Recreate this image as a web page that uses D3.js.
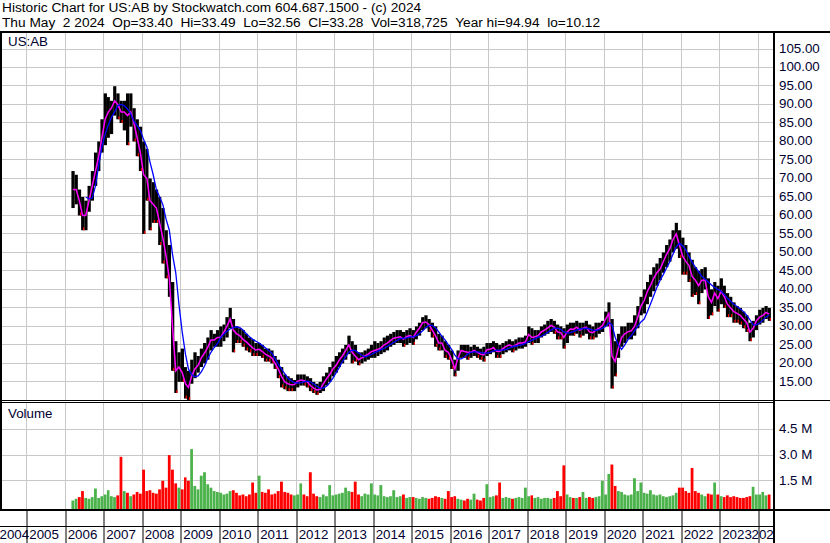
<!DOCTYPE html>
<html>
<head>
<meta charset="utf-8">
<script src="https://cdn.jsdelivr.net/npm/d3@7"></script>
<style>
  body { margin: 0; background: #fff; }
  svg { display: block; }
</style>
</head>
<body>
<svg width="830" height="543"></svg>
<script>
// monthly bars, first bar is March 2006
var firstYear = 2006, firstMonth = 2;

var hi = [
  72, 71, 67, 65, 64, 68, 72, 77, 80, 86,                         // 2006
  93, 92, 91, 94.94, 93, 91, 91, 93, 93, 89, 86, 84,              // 2007
  80, 78, 70, 69, 67, 65, 62, 56, 52, 42, 26, 23,                 // 2008
  24, 19, 18, 21, 23, 22, 24, 25.5, 27, 29, 28, 29,               // 2009
  30, 30.5, 32.5, 35, 32, 30, 29.5, 29, 28, 27, 26.5, 25.5,       // 2010
  25.5, 25, 24, 24, 23.5, 22, 21, 19, 17, 16.5, 16, 15.5,         // 2011
  17, 17, 17, 16.5, 16, 15, 14.5, 15, 16.5, 17.5, 19, 20.5,       // 2012
  22, 23, 24, 25, 27.5, 26, 25, 23, 23, 23.5, 24, 25,             // 2013
  26, 25.5, 26, 27, 27.5, 28, 28.5, 29, 29, 28.5, 29, 29.5,       // 2014
  29, 30, 31, 32.5, 33, 32, 31, 30, 28, 27.5, 26, 25,             // 2015
  23.5, 21, 23.5, 25, 25, 25, 24.5, 25, 24.5, 24, 24.5, 25.5,     // 2016
  25.5, 26, 25.5, 25, 25.5, 26, 26.5, 26, 26.5, 27, 27, 27.5,     // 2017
  30, 29.5, 29, 29, 30, 30.5, 31.5, 32, 31.5, 30.5, 30, 29.5,     // 2018
  30.5, 31, 31, 31.5, 31, 31, 31.5, 30.5, 30, 31, 31, 31.5,       // 2019
  34, 36.5, 32, 26, 28, 30, 30, 31, 31, 33, 35.5, 38,             // 2020
  40, 42, 44, 46, 47, 48.5, 50, 52, 53.5, 56, 58, 56,             // 2021
  54, 52, 50, 48, 46, 45, 45.5, 46, 43, 40, 42, 41,               // 2022
  43, 41, 39, 38, 36.5, 35.5, 35, 34, 33, 31, 31.5, 33,           // 2023
  34.5, 35, 35.5, 35                                              // 2024
];

var lo = [
  62, 63, 60, 56, 56, 61, 64, 68, 72, 77,
  79, 81, 82, 87, 86, 85, 83, 79, 84, 80, 76, 72,
  55, 64, 56, 58, 58, 52, 47, 43, 38, 18, 12, 15,
  15, 10.5, 10.12, 14.5, 16, 17.5, 19, 20, 21, 23.5, 24.5, 24.5,
  24.5, 26, 27, 29.5, 23, 25.5, 25.5, 24.5, 23.5, 23, 22, 22,
  22, 21.5, 20.5, 20.5, 20, 18.5, 16, 13.5, 13, 12.5, 12.5, 12.5,
  13.5, 14, 14, 13.5, 12.5, 12, 11.5, 12, 12.5, 14, 15, 16.5,
  17.5, 19, 20, 21, 22.5, 20, 20.5, 19.5, 20, 20.5, 21, 21.5,
  21.5, 22, 22.5, 23, 23.5, 24.5, 25, 25.5, 25.5, 24.5, 25, 25.5,
  25, 26.5, 27.5, 29, 29.5, 28.5, 27, 24.5, 23.5, 23.5, 21.5, 21,
  18.5, 16.5, 18, 21.5, 21.5, 21, 21.5, 22, 21.5, 21, 20.5, 22,
  22.5, 23, 21.5, 21.5, 22.5, 23, 23.5, 23, 23.5, 24, 24, 24.5,
  25.5, 25, 25.5, 25.5, 27, 27.5, 28, 28.5, 28, 26.5, 26.5, 24,
  25.5, 27.5, 27.5, 28, 27, 27.5, 28, 26.5, 26.5, 27, 28, 28.5,
  30, 30, 13.2, 16.5, 21.5, 24.5, 25.5, 26.5, 26.5, 27.5, 29.5, 33,
  33.5, 36, 38, 39.5, 41, 42.5, 44.5, 46, 47.5, 50, 51, 48.5,
  44, 44, 42, 38, 38.5, 36, 39, 40, 32, 33, 35.5, 34,
  36, 35, 32.5, 32.5, 31, 31, 30.5, 29.5, 28.5, 26, 27, 29,
  30.5, 31, 32, 31.5
];

// short average (magenta)
var avgShort = [
  67, 67, 64, 60, 60, 64, 68, 72, 76, 81,
  86, 88, 89, 91, 90, 88, 88, 87, 88, 85, 81, 77,
  71, 70, 64, 63, 62, 58, 54, 49, 43, 30, 18, 19,
  17.5, 14.5, 13.5, 16.5, 18.5, 19.5, 21.5, 22.8, 24.4, 26.3, 26.3, 27,
  27, 28.5, 30, 32, 29, 28, 27.5, 26.5, 25.8, 25, 24.2, 23.6,
  23.8, 23.2, 22.5, 22, 21.5, 20, 18.5, 16.5, 15, 14.5, 14.2, 14.3,
  15.2, 15.5, 15.3, 15, 14, 13.3, 12.8, 13, 14.5, 15.8, 17, 18.5,
  19.5, 21, 22, 23.5, 25, 23, 22, 21, 21.5, 22, 22.5, 23.2,
  23.5, 23.8, 24.2, 25, 25.5, 26.2, 26.8, 27, 27.2, 26.5, 27.3, 27.5,
  27, 28.5, 29.5, 31, 31.2, 30.5, 29, 27.5, 25.5, 25.5, 23.5, 23,
  21, 18.5, 21.5, 23.5, 23.2, 23, 23, 23.5, 23, 22.5, 22.3, 23.7,
  23.8, 24.3, 23.3, 23.2, 24, 24.6, 25, 24.5, 25, 25.5, 25.5, 25.8,
  27.8, 27, 27.2, 27.5, 28.5, 29, 29.6, 30.3, 29.8, 28.5, 28.3, 27,
  28.5, 29.3, 29.2, 29.8, 29, 29.5, 29.8, 28.5, 28.3, 29, 29.5, 30.2,
  32, 33.5, 22, 20.5, 24.2, 27, 28, 28.6, 28.8, 30, 32.5, 35.5,
  37, 39.5, 41, 43, 44.5, 45.5, 47.5, 49.5, 51, 53.5, 55, 52,
  49, 47.5, 46.5, 43.5, 42.5, 41, 42.5, 42.5, 38, 36.5, 39, 37.5,
  39.5, 38, 36, 35, 34, 33.5, 33, 32, 31, 28.5, 29.5, 31.5,
  32.5, 33, 33.8, 33.3
];

// long average (blue)
var avgLong = [
  null, null, null, null, 65, 64.5, 64.7, 68, 73.5, 78.5,
  82, 84.5, 86.5, 88, 89.7, 90, 89.7, 88.8, 87.5, 85.5, 84.3, 83,
  80.5, 78.5, 74.5, 71, 67, 65, 63, 59, 56, 49.5, 44.5, 36,
  28.5, 22.5, 18.5, 17, 16.4, 16.6, 17.7, 19.3, 21.4, 23, 24.3, 25.3,
  27, 27.9, 28.7, 29.3, 29.7, 29.9, 29.7, 29, 28, 27.2, 26.5, 26,
  25.5, 24.8, 24.2, 23.5, 22.8, 21.3, 19.8, 18.5, 17.2, 16, 15.3, 14.8,
  14.7, 14.8, 15, 15.2, 15, 14.5, 13.8, 13.3, 13.3, 13.8, 14.8, 16,
  17.5, 19, 20.5, 21.8, 23, 23.6, 23.5, 22.8, 22.2, 21.8, 22, 22.4,
  22.9, 23.3, 23.7, 24.1, 24.6, 25.1, 25.7, 26.2, 26.7, 26.8, 26.9, 27.1,
  27.2, 27.5, 28, 28.8, 29.7, 30.3, 30.3, 29.6, 28.5, 27.3, 26.3, 25,
  23.8, 22.2, 21.2, 21.2, 21.7, 22.5, 23, 23.1, 23.1, 23, 22.8, 22.8,
  23, 23.4, 23.6, 23.6, 23.6, 23.8, 24.1, 24.5, 24.7, 24.9, 25.1, 25.4,
  25.9, 26.3, 26.6, 27.1, 27.3, 27.8, 28.4, 29, 29.5, 29.5, 29.2, 28.5,
  28.2, 28.3, 28.6, 29, 29.3, 29.4, 29.5, 29.3, 29, 28.9, 29.1, 29.5,
  30, 31, 30.5, 27, 25, 23.8, 25, 26.5, 27.5, 28.8, 30, 31.2,
  32, 34, 36, 38.3, 40.5, 42.5, 44, 45.8, 47.5, 49.5, 51.5, 52.5,
  51.8, 50.6, 49, 47.3, 46, 44.8, 43.5, 42.8, 42, 41.2, 40.5, 40,
  39.5, 38.6, 37.6, 36.8, 36, 35.4, 34.8, 34, 33, 31.8, 30.4, 30.4,
  30.9, 31.7, 32.5, 33.1
];

// volume, millions
var vol = [
  0.35, 0.45, 0.55, 0.9, 0.5, 0.45, 0.55, 1.05, 0.5, 0.6,
  0.7, 0.95, 0.6, 0.55, 0.65, 2.9, 0.9, 0.8, 0.6, 0.7, 0.85, 0.75,
  2.15, 0.9, 0.95, 0.8, 0.75, 1.0, 1.5, 1.1, 3.0, 2.15, 1.35, 1.1,
  1.0, 1.7, 1.5, 3.35, 1.2, 1.0, 1.8, 2.0, 1.3, 1.1, 0.9, 0.85,
  0.8, 0.7, 0.75, 0.9, 0.95, 0.8, 0.65, 0.7, 0.6, 0.7, 1.4, 0.8,
  1.8, 0.85, 0.8, 1.0, 0.7, 0.75, 0.9, 1.45, 0.85, 0.8, 0.7, 0.65,
  0.7, 1.35, 0.7, 0.6, 2.0, 0.75, 0.6, 0.55, 0.7, 0.6, 1.25, 0.65,
  0.7, 0.75, 0.8, 1.1, 0.9, 0.85, 1.45, 0.7, 0.6, 0.75, 0.7, 1.35,
  0.7, 0.65, 1.25, 0.6, 0.55, 0.6, 0.95, 0.55, 0.6, 0.7, 0.5, 0.55,
  0.55, 0.5, 0.45, 0.55, 0.5, 0.45, 0.5, 0.6, 0.55, 0.5, 0.45, 0.9,
  0.55, 0.6, 0.45, 0.4, 0.35, 0.45, 0.4, 0.75, 0.4, 0.35, 0.5, 1.3,
  0.55, 0.6, 0.65, 1.4, 0.5, 0.55, 0.5, 0.45, 0.5, 0.55, 0.5, 1.1,
  0.6, 0.65, 0.5, 0.55, 0.45, 0.5, 0.5, 0.45, 0.5, 0.9, 0.6, 2.4,
  0.7, 0.55, 0.5, 0.5, 0.55, 0.85, 0.5, 0.55, 0.5, 0.55, 0.6, 1.5,
  0.7, 1.9, 2.45, 1.2, 0.9, 0.85, 0.7, 0.65, 0.7, 1.65, 0.9, 1.4,
  0.8, 0.75, 0.95, 0.7, 0.65, 0.7, 0.6, 0.55, 0.6, 0.65, 0.8, 1.1,
  1.1, 0.9, 0.8, 2.25, 0.9, 0.8, 0.7, 0.6, 0.75, 0.7, 1.4, 0.7,
  0.6, 0.55, 0.65, 0.55, 0.6, 0.55, 0.5, 0.5, 0.55, 0.6, 1.15, 0.7,
  0.7, 0.85, 0.65, 0.7
];

var priceTicks = [15, 20, 25, 30, 35, 40, 45, 50, 55, 60, 65, 70, 75, 80, 85, 90, 95, 100, 105];
var volTicks = [1.5, 3.0, 4.5];
var years = [2004, 2005, 2006, 2007, 2008, 2009, 2010, 2011, 2012, 2013, 2014,
             2015, 2016, 2017, 2018, 2019, 2020, 2021, 2022, 2023, 2024];

var FONT = '"Liberation Sans", Arial, sans-serif';
var AXIS_TXT = "#000030";

var svg = d3.select("svg")
  .attr("font-family", FONT)
  .attr("font-size", 13.33);

var months = hi.map(function (d, i) { return new Date(firstYear, firstMonth + i, 1); });
function nextMonth(d) { return new Date(d.getFullYear(), d.getMonth() + 1, 1); }
function midMonth(d) { return new Date(d.getFullYear(), d.getMonth(), 15); }

var x = d3.scaleTime()
  .domain([new Date(2004, 4, 2), new Date(2024, 4, 2)])
  .range([1, 771]);
var yP = d3.scaleLinear().domain([10.1, 109.6]).range([400, 32]);
var yV = d3.scaleLinear().domain([0, 6]).range([506.5, 403.7]);

function px(v) { return Math.floor(v) + 0.5; }

var defs = svg.append("defs");
defs.append("clipPath").attr("id", "clipP")
  .append("rect").attr("x", 2).attr("y", 33).attr("width", 771).attr("height", 367);
defs.append("clipPath").attr("id", "clipV")
  .append("rect").attr("x", 2).attr("y", 403).attr("width", 771).attr("height", 106);
defs.append("clipPath").attr("id", "clipX")
  .append("rect").attr("x", 0).attr("y", 511).attr("width", 773).attr("height", 32);

// ---- grid
var grid = svg.append("g").attr("stroke", "#c8c8c8").attr("stroke-width", 1);
var yearDates = years.map(function (y) { return new Date(y, 0, 1); });

grid.selectAll(".vgp").data(yearDates.slice(1)).enter().append("line")
  .attr("x1", function (d) { return px(x(d)); })
  .attr("x2", function (d) { return px(x(d)); })
  .attr("y1", 33).attr("y2", 400);
grid.selectAll(".vgv").data(yearDates.slice(1)).enter().append("line")
  .attr("x1", function (d) { return px(x(d)); })
  .attr("x2", function (d) { return px(x(d)); })
  .attr("y1", 403).attr("y2", 509);
grid.selectAll(".hgp").data(priceTicks).enter().append("line")
  .attr("x1", 2).attr("x2", 773)
  .attr("y1", function (d) { return px(yP(d)); })
  .attr("y2", function (d) { return px(yP(d)); });
grid.selectAll(".hgv").data(volTicks).enter().append("line")
  .attr("x1", 2).attr("x2", 773)
  .attr("y1", function (d) { return px(yV(d)); })
  .attr("y2", function (d) { return px(yV(d)); });

// ---- price bars
var gP = svg.append("g").attr("clip-path", "url(#clipP)");

gP.selectAll(".bar").data(months).enter().append("rect")
  .attr("x", function (d) { return x(d); })
  .attr("width", function (d) { return x(nextMonth(d)) - x(d); })
  .attr("y", function (d, i) { return yP(hi[i]); })
  .attr("height", function (d, i) { return yP(lo[i]) - yP(hi[i]); })
  .attr("fill", "#000");

// red marks for months that closed lower
gP.selectAll(".dn").data(months).enter().append("rect")
  .filter(function (d, i) { return i > 0 && avgShort[i] < avgShort[i - 1]; })
  .attr("x", function (d) { return x(nextMonth(d)) - 1.2; })
  .attr("width", 1.2)
  .attr("y", function (d) { var i = months.indexOf(d); return yP(lo[i]) - 3; })
  .attr("height", 3)
  .attr("fill", "#ff0000");

var lineShort = d3.line()
  .x(function (d) { return x(midMonth(d)); })
  .y(function (d) { return yP(avgShort[months.indexOf(d)]); });

var lineLong = d3.line()
  .defined(function (d) { return avgLong[months.indexOf(d)] != null; })
  .x(function (d) { return x(midMonth(d)); })
  .y(function (d) { return yP(avgLong[months.indexOf(d)]); });

gP.append("path").datum(months)
  .attr("d", lineShort)
  .attr("fill", "none").attr("stroke", "#ff00ff").attr("stroke-width", 1.5);
gP.append("path").datum(months)
  .attr("d", lineLong)
  .attr("fill", "none").attr("stroke", "#0000ff").attr("stroke-width", 1.3);

// ---- volume bars
var gV = svg.append("g").attr("clip-path", "url(#clipV)");
gV.selectAll(".vb").data(months).enter().append("rect")
  .attr("x", function (d) { return x(d); })
  .attr("width", function (d) { return x(nextMonth(d)) - x(d) - 0.4; })
  .attr("y", function (d, i) { return yV(vol[i]); })
  .attr("height", function (d, i) { return 509 - yV(vol[i]); })
  .attr("fill", function (d, i) {
    return (i === 0 || avgShort[i] >= avgShort[i - 1]) ? "#4cb34c" : "#ff0000";
  });

// ---- frame
var frame = svg.append("g").attr("fill", "#000");
frame.append("rect").attr("x", 0).attr("y", 31).attr("width", 830).attr("height", 2);
frame.append("rect").attr("x", 0).attr("y", 31).attr("width", 2).attr("height", 480);
frame.append("rect").attr("x", 773).attr("y", 31).attr("width", 2).attr("height", 512);
frame.append("rect").attr("x", 0).attr("y", 400).attr("width", 830).attr("height", 1);
frame.append("rect").attr("x", 0).attr("y", 402).attr("width", 773).attr("height", 1);
frame.append("rect").attr("x", 0).attr("y", 509).attr("width", 830).attr("height", 2);
frame.append("rect").attr("x", 0).attr("y", 526).attr("width", 773).attr("height", 1);

// ---- right axes
var axP = svg.append("g").attr("transform", "translate(775,0)")
  .call(d3.axisRight(yP).tickValues(priceTicks).tickSize(0).tickPadding(4)
    .tickFormat(d3.format(".2f")));
axP.select(".domain").remove();

var axV = svg.append("g").attr("transform", "translate(775,0)")
  .call(d3.axisRight(yV).tickValues(volTicks).tickSize(0).tickPadding(4)
    .tickFormat(function (d) { return d.toFixed(1) + " M"; }));
axV.select(".domain").remove();

[axP, axV].forEach(function (g) {
  g.attr("font-family", FONT).attr("font-size", 13.33);
  g.selectAll("text").attr("fill", AXIS_TXT).attr("dy", "0.25em");
});

// ---- year axis (outer group holds the clip so it stays in page coords)
var axXWrap = svg.append("g").attr("clip-path", "url(#clipX)");
var axX = axXWrap.append("g").attr("transform", "translate(0,510)")
  .call(d3.axisBottom(x).tickValues(yearDates).tickSize(33)
    .tickFormat(d3.timeFormat("%Y")));
axX.select(".domain").remove();
axX.attr("font-family", FONT).attr("font-size", 13.33);
axX.selectAll(".tick line").attr("stroke", "#000")
  .attr("transform", function (d) { return "translate(" + (px(x(d)) - x(d)) + ",0)"; });
// first and last labels are pushed back inside the plot width, as in the original
axX.selectAll(".tick text")
  .attr("fill", AXIS_TXT)
  .attr("text-anchor", "start")
  .attr("x", function (d) { var tx = x(d); return Math.min(Math.max(2, -1 - tx), 751 - tx); })
  .attr("y", 29).attr("dy", 0);

// ---- labels (non-breaking spaces keep the double gaps of the original)
var NB2 = "\u00a0\u00a0";
svg.append("text").attr("x", 2).attr("y", 12).attr("font-size", 13.7)
  .text("Historic Chart for US:AB by Stockwatch.com 604.687.1500 - (c) 2024");
svg.append("text").attr("x", 2).attr("y", 27).attr("font-size", 13.7)
  .text(["Thu May" + NB2 + "2 2024", "Op=33.40", "Hi=33.49", "Lo=32.56",
         "Cl=33.28", "Vol=318,725", "Year hi=94.94", "lo=10.12"].join(NB2));
svg.append("text").attr("x", 8).attr("y", 46).attr("fill", AXIS_TXT).text("US:AB");
svg.append("text").attr("x", 8).attr("y", 418).attr("fill", AXIS_TXT).text("Volume");
</script>
</body>
</html>
